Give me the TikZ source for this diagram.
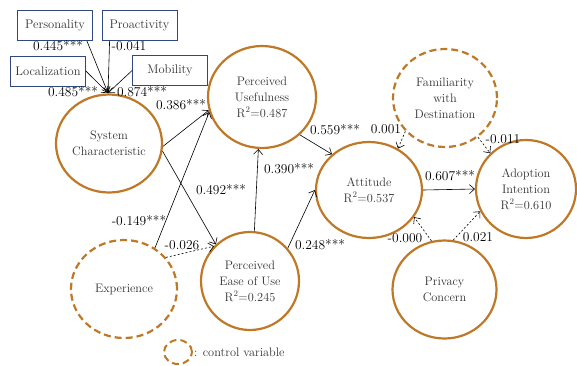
\documentclass[tikz,border=0pt]{standalone}
\usetikzlibrary{shapes.geometric,arrows.meta}
\definecolor{ochre}{RGB}{191,120,38}
\definecolor{boxblue}{RGB}{47,72,128}
\definecolor{txtgray}{RGB}{50,50,50}
\tikzstyle{sem model}=[
    x=1pt, y=-1pt, >={Straight Barb[length=5pt,width=9pt]},
    every node/.style={text=txtgray},
]
\tikzstyle{construct}=[ellipse, draw=ochre, line width=2.2pt, align=center,
    inner sep=0pt, font=\fontsize{12.3}{16}\selectfont]
\tikzstyle{control}=[construct, dash pattern=on 7pt off 4pt]
\tikzstyle{indicator}=[rectangle, draw=boxblue, line width=0.8pt,
    minimum width=75pt, minimum height=30pt, font=\fontsize{12.5}{14}\selectfont]
\tikzstyle{coef}=[inner sep=0pt, text=black, font=\fontsize{13.5}{14}\selectfont]
\tikzstyle{effect}=[->, line width=0.6pt]
\tikzstyle{ctrl effect}=[effect, dash pattern=on 2pt off 2pt]
\newcommand{\rsq}[1]{R\textsuperscript{2}=#1}

\begin{document}
\begin{tikzpicture}[sem model]
        \useasboundingbox (0,0) rectangle (577,365);

        % formative indicators
        \node[indicator] (pers) at (55,25.5) {Personality};
        \node[indicator] (proa) at (139.5,25.5) {Proactivity};
        \node[indicator] (loc) at (48,71) {Localization};
        \node[indicator] (mob) at (170,70.5) {Mobility};
        \coordinate (hub) at (108,93);

        % constructs
        \node[construct, minimum width=106pt, minimum height=98pt] (sc) at (109,143.5) {System\\Characteristic};
        \node[construct, minimum width=108pt, minimum height=102pt] (pu) at (262,97) {Perceived\\Usefulness\\\rsq{0.487}};
        \node[control, minimum width=104pt, minimum height=98pt] (fam) at (445,98) {Familiarity\\with\\Destination};
        \node[construct, minimum width=106pt, minimum height=96pt] (att) at (369,190) {Attitude\\\rsq{0.537}};
        \node[construct, minimum width=100pt, minimum height=98pt] (ai) at (526,189) {Adoption\\Intention\\\rsq{0.610}};
        \node[construct, minimum width=104pt, minimum height=98pt] (pc) at (444.5,289.5) {Privacy\\Concern};
        \node[construct, minimum width=98pt, minimum height=98pt] (peou) at (250,281) {Perceived\\Ease of Use\\\rsq{0.245}};
        \node[control, minimum width=106pt, minimum height=98pt] (exp) at (124,289) {Experience};

        % legend
        \node[control, line width=2pt, minimum width=28pt, minimum height=24pt] (legend) at (178,352) {};
        \node[anchor=west, inner sep=1pt, font=\fontsize{12.3}{14}\selectfont] (legendtext) at (legend.east) {: control variable};

        \path[effect]
            ([xshift=-6pt]pers.south east) edge (hub)
            ([xshift=8pt]proa.south west) edge (hub)
            (loc.east) edge (hub)
            (mob.west) edge (hub)
            (sc.-3) edge (pu.194)
            (sc.-8) edge (peou.133)
            (exp.53) edge (pu.196)
            (peou.85) edge (pu.266)
            (peou.41) edge (att.west)
            (pu.-45) edge (att.136)
            (att.east) edge (ai.west)
        ;
        \path[ctrl effect]
            (exp.37) edge (peou.136)
            (fam.220) edge (att.55)
            (fam.-50) edge (ai.135)
            (pc.105) edge (att.-31)
            (pc.80) edge (ai.206)
        ;

        % path coefficients
        \node[coef] (c-pers) at (58,46) {0.445***};
        \node[coef] (c-proa) at (129,46) {-0.041};
        \node[coef] (c-loc) at (73,92) {0.485***};
        \node[coef] (c-mob) at (142,92) {0.874***};
        \node[coef] (c-sc-pu) at (181,105) {0.386***};
        \node[coef] (c-sc-peou) at (221,190) {0.492***};
        \node[coef] (c-exp-pu) at (139,221) {-0.149***};
        \node[coef] (c-exp-peou) at (182,245) {-0.026};
        \node[coef] (c-peou-pu) at (289,169) {0.390***};
        \node[coef] (c-pu-att) at (335,130) {0.559***};
        \node[coef] (c-fam-att) at (386,129) {0.001};
        \node[coef] (c-fam-ai) at (503,139) {-0.011};
        \node[coef] (c-att-ai) at (450,176) {0.607***};
        \node[coef] (c-peou-att) at (320,245) {0.248***};
        \node[coef] (c-pc-att) at (405,238) {-0.000};
        \node[coef] (c-pc-ai) at (478,237) {0.021};
    \end{tikzpicture}
\end{document}
